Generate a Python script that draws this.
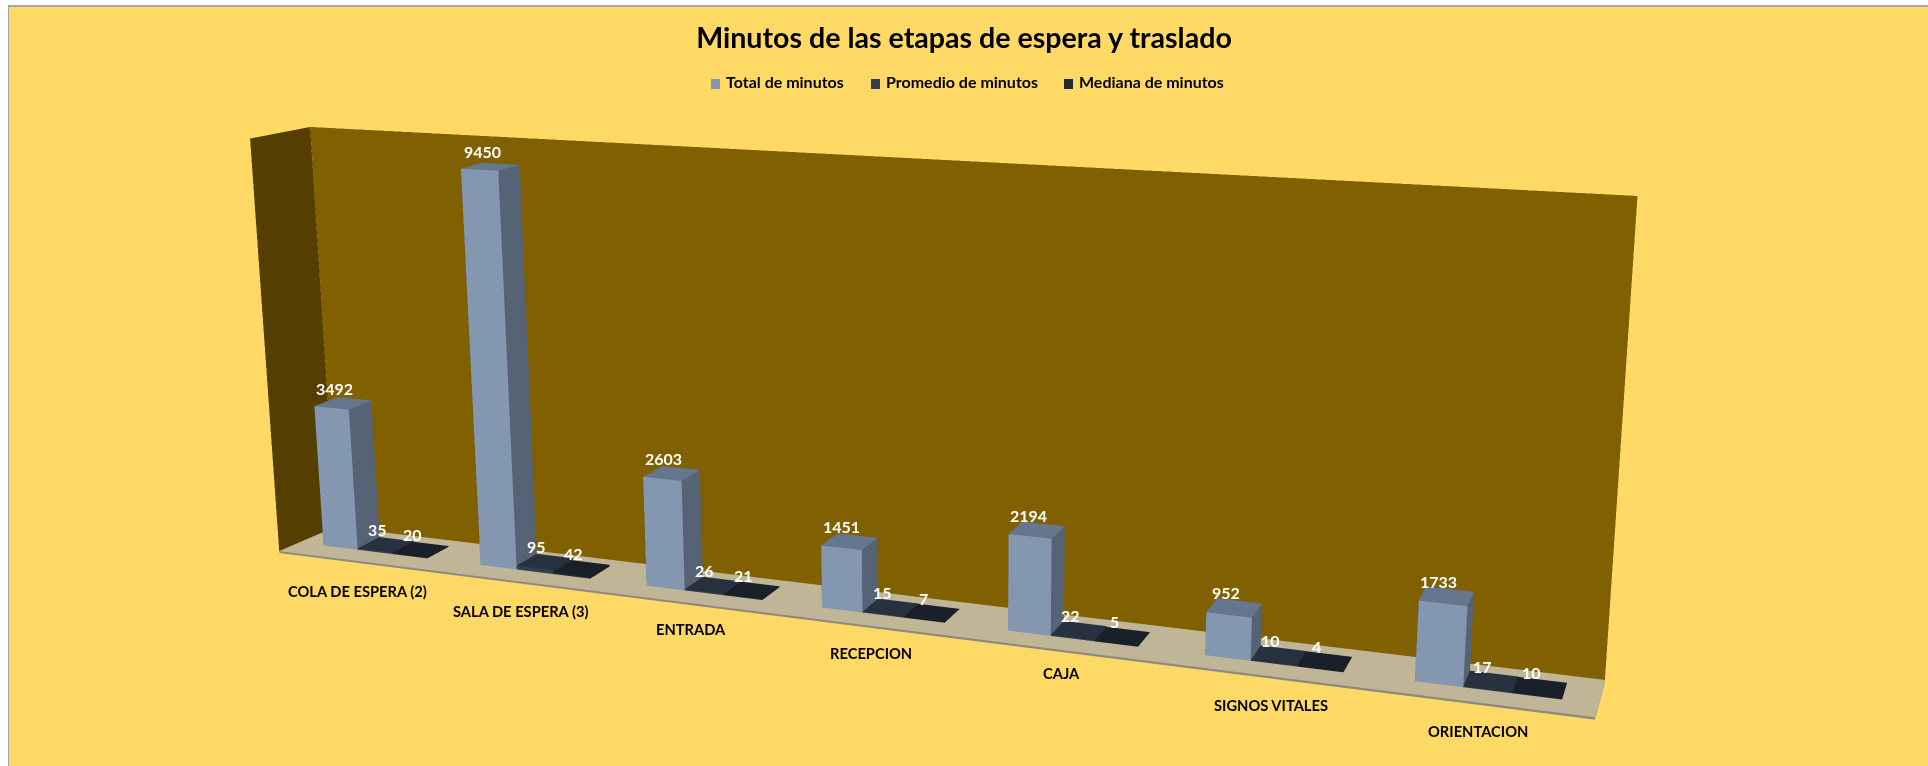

import numpy as np, plotly.graph_objects as go

categories = ["COLA DE ESPERA (2)","SALA DE ESPERA (3)","ENTRADA","RECEPCION","CAJA","SIGNOS VITALES","ORIENTACION"]
total = [3492,9450,2603,1451,2194,952,1733]
promedio = [35,95,26,15,22,10,17]
mediana = [20,42,21,7,5,4,10]
series_names = ["Total de minutos","Promedio de minutos","Mediana de minutos"]

# category-label nudges in pixels
label_dx=[1,2,2,2,0,6,-4]
label_dy=[-3,-3,1,0,4,-3,-1]
# legend swatch left edges in page pixels
legend_sw=[711,871,1064]

ZMAX, ZMIN = 10000.0, -80.0
GAP, BAR, Y0, Y1 = 0.1721, 0.2222, 0.344, 0.7867   # group gap, bar width, bar depth span
XL = 0.035                                          # back wall's left end
# Plotly's lens is fixed at 45 degrees, so the scene viewport is made tall enough to flatten
# the perspective and the page shows only the part of the figure that holds the chart.
FIG_W, FIG_H = 1920, 1952
PAGE_X, PAGE_Y = 8, -615
VIEW_W = 1818

def py(v): return 1-(v-PAGE_Y)/FIG_H
def px(v): return (v-PAGE_X)/FIG_W

LIGHT=dict(ambient=1,diffuse=0,specular=0,roughness=1,fresnel=0)
def quad(xs,ys,zs,color):
    return go.Mesh3d(x=xs,y=ys,z=zs,i=[0,0],j=[1,2],k=[2,3],color=color,flatshading=True,hoverinfo="skip",showlegend=False,lighting=LIGHT)
def box(x0,x1,y0,y1,z0,z1,fc,sc,tc):
    xs=[x0,x1,x1,x0,x0,x1,x1,x0];ys=[y0,y0,y1,y1,y0,y0,y1,y1];zs=[z0,z0,z0,z0,z1,z1,z1,z1]
    i=[0,0,1,1,4,4,3,3,0,0,2,2];j=[1,5,2,6,5,6,7,4,1,2,3,7];k=[5,4,6,5,6,7,4,0,2,3,7,6]
    return go.Mesh3d(x=xs,y=ys,z=zs,i=i,j=j,k=k,facecolor=[fc,fc,sc,sc,tc,tc,sc,sc,tc,tc,sc,sc],flatshading=True,hoverinfo="skip",showlegend=False,lighting=LIGHT)

fig=go.Figure()
fig.add_trace(quad([XL,7,7,XL],[1,1,1,1],[0,0,ZMAX,ZMAX],"#806000"))
fig.add_trace(quad([0,XL,XL,0],[0,1,1,0],[0,0,ZMAX,ZMAX],"#543F00"))
fig.add_trace(quad([0,7,7,XL],[0,0,1,1],[0,0,0,0],"#C0B596"))
fig.add_trace(quad([0,7,7,0],[0,0,0,0],[-50,-50,0,0],"#8C8A80"))
fig.add_trace(quad([7,7,7,7],[0,1,1,0],[-50,-50,0,0],"#8C8A80"))
sty=[("#8497B0","#566375","#66768C"),("#333F50","#232C38","#27313F"),("#222A35","#171D25","#1A2029")]
legend_col=["#8497B0","#333F50","#222A35"]
ann=[]
for g in range(7):
    for s,vals in enumerate((total,promedio,mediana)):
        fig.add_trace(box(g+GAP+s*BAR,g+GAP+(s+1)*BAR,Y0,Y1,0,vals[g],*sty[s]))
        ann.append(dict(x=g+GAP+(s+.5)*BAR,y=(Y0+Y1)/2,z=vals[g],text=f"<b>{vals[g]}</b>",showarrow=False,xshift=-8,yshift=15,font=dict(family="Lato",size=16,color="white")))
    ann.append(dict(x=g+.5,y=0,z=0,text=f"<b>{categories[g]}</b>",showarrow=False,xshift=label_dx[g],yshift=-27+label_dy[g],font=dict(family="Lato",size=14.7,color="black")))
shapes=[dict(type="line",xref="paper",yref="paper",x0=0,x1=1,y0=py(6),y1=py(6),line=dict(color="#A6A6A6",width=2)),
        dict(type="line",xref="paper",yref="paper",x0=0,x1=0,y0=py(6),y1=0,line=dict(color="#A6A6A6",width=2))]
top=[]
for s in range(3):
    shapes.append(dict(type="rect",xref="paper",yref="paper",x0=px(legend_sw[s]),x1=px(legend_sw[s]+9),y0=py(79),y1=py(89),fillcolor=legend_col[s],line=dict(width=0)))
    top.append(dict(xref="paper",yref="paper",x=px(legend_sw[s]+13),y=py(82),xanchor="left",yanchor="middle",showarrow=False,text=f"<b>{series_names[s]}</b>",font=dict(family="Lato",size=16,color="black")))
fig.update_layout(width=FIG_W,height=FIG_H,autosize=False,margin=dict(l=0,r=0,t=0,b=0),paper_bgcolor="#FFD966",showlegend=False,
    title=dict(text="<b>Minutos de las etapas de espera y traslado</b>",x=px(964),xanchor="center",y=py(38),yanchor="middle",font=dict(family="Lato",size=28.6,color="black")),
    annotations=top,shapes=shapes,
    scene=dict(domain=dict(x=[0,VIEW_W/FIG_W],y=[0,1]),xaxis=dict(visible=False,range=[0,7]),yaxis=dict(visible=False,range=[0,1]),zaxis=dict(visible=False,range=[ZMIN,ZMAX]),
      aspectmode="manual",aspectratio=dict(x=2,y=0.1395,z=0.6573),annotations=ann,
      camera=dict(eye=dict(x=1.1958,y=-3.0161,z=0.8235),center=dict(x=-0.0116,y=0.1563,z=0.0125),up=dict(x=0.0233,y=-0.0488,z=1),projection=dict(type="perspective"))))
post=("var gd=document.getElementById('{plot_id}');document.documentElement.style.overflow='hidden';document.body.style.overflow='hidden';document.body.style.margin='0';"
      f"gd.style.position='absolute';gd.style.left='{PAGE_X}px';gd.style.top='{PAGE_Y}px';gd.style.clipPath='inset({6-PAGE_Y-1}px 0 0 0)';")
fig.write_html("out.html",post_script=post)
